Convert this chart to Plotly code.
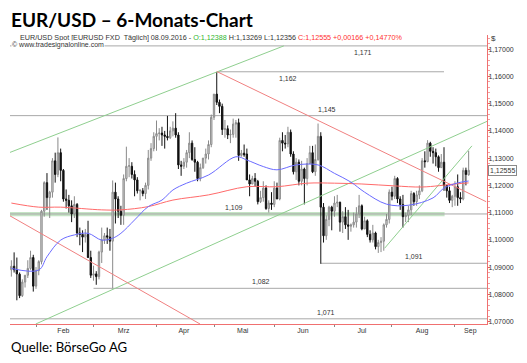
import plotly.graph_objects as go
import pandas as pd

# ---------------- data ----------------
first_day = "2016-01-19"
last_day = "2016-09-08"

opens = [
    1.0890, 1.0903, 1.0890, 1.0874, 1.0795, 1.0845, 1.0870, 1.0895, 1.0935,
    1.0830, 1.0887, 1.0920, 1.1105, 1.1210, 1.1155, 1.1175, 1.1290, 1.1240, 1.1320, 1.1255, 1.1150, 1.1145, 1.1125, 1.1095, 1.1130, 1.1025, 1.1020, 1.1010, 1.1020, 1.0935,
    1.0870, 1.0875, 1.0865, 1.0955, 1.1000, 1.1015, 1.1010, 1.0995, 1.1175, 1.1150, 1.1105, 1.1090, 1.1225, 1.1270, 1.1270, 1.1240, 1.1220, 1.1180, 1.1180, 1.1170, 1.1200, 1.1300, 1.1335,
    1.1380, 1.1390, 1.1392, 1.1385, 1.1380, 1.1375, 1.1400, 1.1410, 1.1385, 1.1275, 1.1270, 1.1285, 1.1320, 1.1355, 1.1295, 1.1285, 1.1225, 1.1265, 1.1300, 1.1315, 1.1350,
    1.1450, 1.1535, 1.1505, 1.1490, 1.1405, 1.1408, 1.1385, 1.1387, 1.1425, 1.1430, 1.1310, 1.1318, 1.1315, 1.1220, 1.1205, 1.1225, 1.1215, 1.1140, 1.1155, 1.1190, 1.1115, 1.1135,
    1.1130, 1.1190, 1.1150, 1.1365, 1.1355, 1.1352, 1.1395, 1.1315, 1.1250, 1.1285, 1.1215, 1.1260, 1.1225, 1.1280, 1.1320, 1.1250, 1.1295, 1.1380, 1.1120, 1.1015, 1.1075, 1.1120,
    1.1105, 1.1135, 1.1138, 1.1065, 1.1085, 1.1055, 1.1050, 1.1055, 1.1065, 1.1095, 1.1125, 1.1040, 1.1070, 1.1020, 1.1000, 1.1025, 1.0975, 1.0990, 1.0995, 1.1055, 1.1075,
    1.1175, 1.1160, 1.1225, 1.1150, 1.1130, 1.1085, 1.1090, 1.1110, 1.1170, 1.1140, 1.1165, 1.1180, 1.1290, 1.1287, 1.1355, 1.1325, 1.1320, 1.1305, 1.1265, 1.1285, 1.1200, 1.1180, 1.1145,
    1.1160, 1.1195, 1.1155, 1.1150, 1.1255, 1.12388,
]
highs = [
    1.0925, 1.0954, 1.0935, 1.0880, 1.0855, 1.0870, 1.0925, 1.0960, 1.0945,
    1.0900, 1.0925, 1.1110, 1.1215, 1.1245, 1.1180, 1.1300, 1.1320, 1.1376, 1.1335, 1.1260, 1.1185, 1.1165, 1.1145, 1.1160, 1.1135, 1.1045, 1.1035, 1.1040, 1.1070, 1.0960,
    1.0905, 1.0885, 1.0960, 1.1045, 1.1025, 1.1045, 1.1040, 1.1218, 1.1210, 1.1160, 1.1125, 1.1240, 1.1342, 1.1300, 1.1285, 1.1255, 1.1230, 1.1185, 1.1190, 1.1210, 1.1330, 1.1355, 1.1395,
    1.1438, 1.1410, 1.1415, 1.1400, 1.1455, 1.1415, 1.1435, 1.1465, 1.1395, 1.1290, 1.1300, 1.1330, 1.1395, 1.1365, 1.1340, 1.1290, 1.1280, 1.1300, 1.1335, 1.1365, 1.1460,
    1.1535, 1.1616, 1.1515, 1.1500, 1.1440, 1.1420, 1.1405, 1.1445, 1.1440, 1.1445, 1.1330, 1.1350, 1.1335, 1.1240, 1.1235, 1.1245, 1.1220, 1.1180, 1.1215, 1.1200, 1.1145, 1.1175,
    1.1215, 1.1210, 1.1375, 1.1395, 1.1385, 1.1415, 1.1405, 1.1325, 1.1300, 1.1295, 1.1290, 1.1265, 1.1300, 1.1345, 1.1345, 1.1350, 1.1427, 1.1395, 1.1135, 1.1090, 1.1125, 1.1125,
    1.1160, 1.1165, 1.1140, 1.1105, 1.1120, 1.1110, 1.1060, 1.1100, 1.1120, 1.1165, 1.1130, 1.1085, 1.1075, 1.1035, 1.1055, 1.1030, 1.1000, 1.1010, 1.1060, 1.1095, 1.1185,
    1.1195, 1.1235, 1.1230, 1.1160, 1.1165, 1.1100, 1.1125, 1.1180, 1.1175, 1.1180, 1.1200, 1.1300, 1.1325, 1.1366, 1.1360, 1.1340, 1.1335, 1.1310, 1.1315, 1.1340, 1.1200, 1.1195, 1.1165,
    1.1215, 1.1240, 1.1175, 1.1265, 1.1265, 1.13269,
]
lows = [
    1.0865, 1.0880, 1.0778, 1.0786, 1.0790, 1.0825, 1.0860, 1.0890, 1.0810,
    1.0820, 1.0870, 1.0910, 1.1085, 1.1110, 1.1080, 1.1155, 1.1210, 1.1230, 1.1215, 1.1140, 1.1115, 1.1100, 1.1065, 1.1080, 1.1010, 1.0980, 1.0955, 1.0990, 1.0935, 1.0860,
    1.0850, 1.0835, 1.0855, 1.0915, 1.0985, 1.0985, 1.0960, 1.0822, 1.1060, 1.1080, 1.1055, 1.1055, 1.1215, 1.1230, 1.1225, 1.1160, 1.1170, 1.1145, 1.1160, 1.1150, 1.1185, 1.1290, 1.1325,
    1.1327, 1.1365, 1.1345, 1.1335, 1.1365, 1.1370, 1.1380, 1.1375, 1.1260, 1.1235, 1.1260, 1.1265, 1.1300, 1.1290, 1.1250, 1.1215, 1.1215, 1.1260, 1.1280, 1.1295, 1.1340,
    1.1440, 1.1495, 1.1465, 1.1385, 1.1375, 1.1370, 1.1355, 1.1375, 1.1375, 1.1290, 1.1305, 1.1305, 1.1225, 1.1160, 1.1205, 1.1195, 1.1130, 1.1135, 1.1140, 1.1110, 1.1100, 1.1110,
    1.1120, 1.1150, 1.1145, 1.1325, 1.1335, 1.1340, 1.1305, 1.1240, 1.1220, 1.1200, 1.1200, 1.1130, 1.1200, 1.1280, 1.1245, 1.1235, 1.1290, 1.0912, 1.0990, 1.1000, 1.1050, 1.1035,
    1.1085, 1.1120, 1.1030, 1.1025, 1.1040, 1.1000, 1.1030, 1.1045, 1.1045, 1.1080, 1.1035, 1.1040, 1.1010, 1.0990, 1.0990, 1.0965, 1.0952, 1.0955, 1.0960, 1.1045, 1.1060,
    1.1145, 1.1150, 1.1135, 1.1110, 1.1045, 1.1065, 1.1065, 1.1090, 1.1125, 1.1125, 1.1150, 1.1175, 1.1265, 1.1285, 1.1305, 1.1280, 1.1270, 1.1250, 1.1265, 1.1180, 1.1155, 1.1135, 1.1120,
    1.1125, 1.1125, 1.1135, 1.1145, 1.1200, 1.12356,
]
closes = [
    1.0903, 1.0890, 1.0875, 1.0795, 1.0845, 1.0870, 1.0895, 1.0935, 1.0830,
    1.0887, 1.0920, 1.1105, 1.1210, 1.1155, 1.1175, 1.1290, 1.1240, 1.1320, 1.1255, 1.1150, 1.1145, 1.1125, 1.1095, 1.1130, 1.1025, 1.1020, 1.1010, 1.1020, 1.0935, 1.0870,
    1.0875, 1.0865, 1.0955, 1.1000, 1.1015, 1.1010, 1.0995, 1.1175, 1.1150, 1.1105, 1.1090, 1.1225, 1.1270, 1.1272, 1.1240, 1.1220, 1.1180, 1.1182, 1.1170, 1.1200, 1.1300, 1.1335, 1.1380,
    1.1390, 1.1392, 1.1385, 1.1380, 1.1375, 1.1400, 1.1410, 1.1385, 1.1275, 1.1270, 1.1285, 1.1320, 1.1355, 1.1295, 1.1285, 1.1225, 1.1265, 1.1300, 1.1315, 1.1350, 1.1450,
    1.1535, 1.1505, 1.1490, 1.1405, 1.1408, 1.1385, 1.1387, 1.1425, 1.1430, 1.1310, 1.1318, 1.1312, 1.1220, 1.1205, 1.1225, 1.1215, 1.1140, 1.1155, 1.1190, 1.1115, 1.1135, 1.1130,
    1.1190, 1.1150, 1.1365, 1.1355, 1.1352, 1.1395, 1.1315, 1.1250, 1.1285, 1.1215, 1.1260, 1.1225, 1.1280, 1.1320, 1.1250, 1.1295, 1.1380, 1.1120, 1.1015, 1.1075, 1.1120, 1.1105,
    1.1135, 1.1138, 1.1065, 1.1085, 1.1055, 1.1050, 1.1055, 1.1065, 1.1095, 1.1125, 1.1040, 1.1070, 1.1020, 1.1000, 1.1025, 1.0975, 1.0990, 1.0995, 1.1055, 1.1075, 1.1175,
    1.1160, 1.1225, 1.1150, 1.1130, 1.1085, 1.1090, 1.1110, 1.1170, 1.1140, 1.1165, 1.1180, 1.1290, 1.1287, 1.1355, 1.1325, 1.1320, 1.1305, 1.1265, 1.1285, 1.1200, 1.1180, 1.1145, 1.1160,
    1.1195, 1.1155, 1.1150, 1.1255, 1.1240, 1.12555,
]

month_labels = {2: "Feb", 3: "Mrz", 4: "Apr", 5: "Mai", 6: "Jun", 7: "Jul", 8: "Aug", 9: "Sep"}

# moving averages, read at sample days (trading-day number, price)
blue_ma_days = [0, 10, 13, 18, 23, 28, 33, 37, 40, 45, 50, 55, 59, 64, 72, 82, 86, 92, 97, 104, 112, 118, 124, 129, 137, 145, 154, 158, 163, 167]
blue_ma_vals = [1.0895, 1.0889, 1.0938, 1.0999, 1.1018, 1.1024, 1.0999, 1.1006, 1.1024, 1.1073, 1.1122, 1.1146, 1.1183, 1.1208, 1.1238,
                1.1305, 1.1293, 1.1269, 1.1257, 1.1275, 1.1275, 1.1244, 1.1212, 1.1175, 1.1131, 1.1127, 1.1154, 1.1190, 1.1209, 1.1216]
red_ma_days = [0, 10, 18, 33, 40, 50, 59, 72, 86, 97, 108, 118, 128, 140, 150, 162, 167]
red_ma_vals = [1.1135, 1.1120, 1.1120, 1.1110, 1.1110, 1.1122, 1.1146, 1.1165, 1.1195, 1.1195, 1.1208, 1.1208, 1.1205, 1.1198, 1.1194, 1.1205, 1.1209]

# horizontal support / resistance levels
level_values = [1.1712, 1.1617, 1.1456, 1.1095, 1.0914, 1.0822, 1.0710]
level_labels = ["1,171", "1,162", "1,145", "1,109", "1,091", "1,082", "1,071"]
level_start_day = [None, 75, None, None, 113, 30, None]
level_end_day = [None, 158, None, None, None, None, None]

# trend lines (trading-day number, price)
green_lines = [
    ([-0.5, 99.5], [1.1321, 1.1712]),
    ([8.9, 173.7], [1.0691, 1.1435]),
    ([136.3, 168.2], [1.0969, 1.1345]),
]
red_lines = [
    ([-0.5, 68.9], [1.1088, 1.0691]),
    ([75.0, 173.4], [1.1618, 1.1140]),
]

last_price = 1.12555

# ---------------- figure ----------------
dates = pd.bdate_range(first_day, last_day)
days = list(range(len(dates)))
x_end = 173.7

month_start = [i for i in days if i > 0 and dates[i].month != dates[i - 1].month]
bounds = month_start + [x_end + 0.5]
label_pos = [(bounds[k] + bounds[k + 1]) / 2 - 0.5 for k in range(len(month_start))]
label_txt = [month_labels[dates[i].month] for i in month_start]

fig = go.Figure()

for xs, ys in green_lines:
    fig.add_trace(go.Scatter(x=xs, y=ys, mode="lines", line=dict(color="#8fcf8f", width=1), hoverinfo="skip"))
for xs, ys in red_lines:
    fig.add_trace(go.Scatter(x=xs, y=ys, mode="lines", line=dict(color="#f08080", width=1), hoverinfo="skip"))

fig.add_trace(go.Candlestick(
    x=days, open=opens, high=highs, low=lows, close=closes,
    increasing=dict(line=dict(color="#8a8a8a", width=1), fillcolor="#dedede"),
    decreasing=dict(line=dict(color="#111111", width=1), fillcolor="#111111"),
    whiskerwidth=0, hoverinfo="skip",
))

fig.add_trace(go.Scatter(x=red_ma_days, y=red_ma_vals, mode="lines", line=dict(color="#ff6a6a", width=1, shape="spline"), hoverinfo="skip"))
fig.add_trace(go.Scatter(x=blue_ma_days, y=blue_ma_vals, mode="lines", line=dict(color="#6b6bff", width=1, shape="spline"), hoverinfo="skip"))

shapes = []
# green band at the 1,109 support
shapes.append(dict(type="rect", xref="x", yref="y", x0=-0.5, x1=158.2,
                   y0=level_values[3] - 0.0008, y1=level_values[3] + 0.0007,
                   fillcolor="rgba(150,205,150,0.55)", line=dict(width=0), layer="below"))
for v, s, e in zip(level_values, level_start_day, level_end_day):
    shapes.append(dict(type="line", xref="x", yref="y",
                       x0=-0.5 if s is None else s, x1=x_end if e is None else e,
                       y0=v, y1=v, line=dict(color="#a8a8a8", width=1), layer="below"))

# label placement: (trading day, above/below the line)
label_days = [128.4, 101.0, 115.3, 81.3, 147.0, 91.2, 115.0]
label_below = [True, True, False, False, False, False, False]
annotations = []
for v, t, d, b in zip(level_values, level_labels, label_days, label_below):
    annotations.append(dict(x=d, y=v, xref="x", yref="y", text=t, showarrow=False,
                            yanchor="top" if b else "bottom", yshift=-1 if b else 1,
                            font=dict(size=7, color="#333333", family="Liberation Sans")))

# page has an 8px body margin: figure is placed at (8, 8)
OFF = 8
PL, PT, PW, PH = 10, 35, 477, 289  # plot area in page pixels


def px_x(p):
    return (p - PL) / PW


def px_y(p):
    return (PT + PH - p) / PH


annotations += [
    dict(x=px_x(9), y=px_y(19), xref="paper", yref="paper", xanchor="left", yanchor="middle", showarrow=False,
         text="<b>EUR/USD – 6-Monats-Chart</b>", font=dict(size=19, color="#000000", family="Lato")),
    dict(x=px_x(18), y=px_y(37), xref="paper", yref="paper", xanchor="left", yanchor="middle", showarrow=False,
         text=("EUR/USD Spot [EURUSD FXD  Täglich] 08.09.2016 - "
               "<span style='color:#2fb52f'>O:1,12388</span> H:1,13269 L:1,12356 "
               "<span style='color:#ff3030'>C:1,12555 +0,00166 +0,14770%</span>"),
         font=dict(size=7.2, color="#333333", family="Liberation Sans")),
    dict(x=px_x(11), y=px_y(45), xref="paper", yref="paper", xanchor="left", yanchor="middle", showarrow=False,
         text="© www.tradesignalonline.com", bgcolor="white", borderpad=0,
         font=dict(size=7, color="#333333", family="Liberation Sans")),
    dict(x=px_x(489), y=px_y(38), xref="paper", yref="paper", xanchor="left", yanchor="middle", showarrow=False,
         text="$", font=dict(size=8, color="#333333", family="Liberation Sans")),
    dict(x=1, y=last_price, xref="paper", yref="y", xanchor="left", yanchor="middle", xshift=1, showarrow=False,
         text="1,12555", bgcolor="white", bordercolor="#8a8a8a", borderwidth=1, borderpad=1,
         font=dict(size=7, color="#333333", family="Liberation Sans")),
    dict(x=px_x(9), y=px_y(347), xref="paper", yref="paper", xanchor="left", yanchor="middle", showarrow=False,
         text="Quelle: BörseGo AG", font=dict(size=13.2, color="#000000", family="Lato")),
]

fig.update_layout(
    width=527 - OFF, height=363 - OFF,
    margin=dict(l=PL - OFF, r=527 - PL - PW, t=PT - OFF, b=363 - PT - PH),
    paper_bgcolor="white", plot_bgcolor="white",
    showlegend=False, separators=",.",
    shapes=shapes, annotations=annotations,
    xaxis=dict(
        range=[-0.5, x_end], rangeslider=dict(visible=False), showgrid=False, zeroline=False,
        showline=True, linecolor="#f07070", linewidth=1,
        tickmode="array", tickvals=label_pos, ticktext=label_txt, ticks="",
        tickfont=dict(size=7, color="#333333", family="Liberation Sans"),
        minor=dict(tickmode="array", tickvals=month_start, ticks="outside", ticklen=2, tickcolor="#888888", showgrid=False),
    ),
    yaxis=dict(
        range=[1.0691, 1.1752], side="right", showgrid=False, zeroline=False,
        showline=True, linecolor="#f07070", linewidth=1,
        tick0=1.0, dtick=0.01, tickformat=".5f", ticks="outside", ticklen=2, tickcolor="#e06060",
        ticklabelstandoff=-3,
        tickfont=dict(size=7, color="#333333", family="Liberation Sans"),
        minor=dict(dtick=0.002, ticks="outside", ticklen=2, tickcolor="#f0a0a0", showgrid=False),
    ),
)

fig.write_html("out.html")
